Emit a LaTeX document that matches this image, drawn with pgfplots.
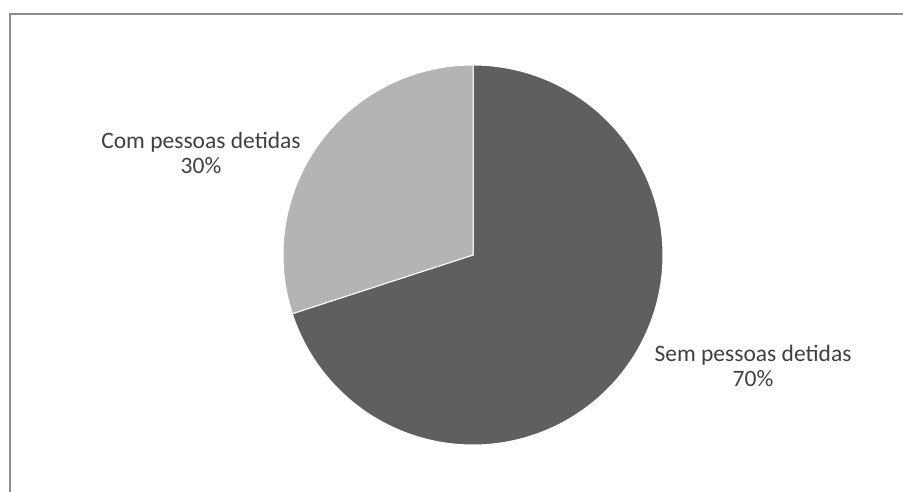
\documentclass[border=0pt]{standalone}
\usepackage{pgfplots}
\usepackage{pgfplotstable}
\pgfplotsset{compat=1.18}
\usepackage{fontspec}
\setmainfont{Carlito}
\definecolor{darkslice}{HTML}{5F5F5F}
\definecolor{lightslice}{HTML}{B4B4B4}
\definecolor{labeltext}{HTML}{404040}
\definecolor{framegray}{HTML}{8C8C8C}
\pgfplotstableread{
label share
Sem 70
Com 30
}\piedata
\pgfplotstablegetelem{0}{share}\of\piedata \let\shareA\pgfplotsretval
\pgfplotstablegetelem{1}{share}\of\piedata \let\shareB\pgfplotsretval
\pgfmathsetmacro{\angA}{90-3.6*\shareA}
\pgfmathsetmacro{\angB}{\angA-3.6*\shareB}
\begin{document}
\begin{tikzpicture}[x=1bp,y=1bp]
\begin{axis}[
  name=ax,
  scale only axis, width=903bp, height=492bp,
  xmin=0, xmax=903, ymin=0, ymax=492, y dir=reverse,
  hide axis, clip=false,
]
\addplot[draw=framegray, line width=2bp] coordinates {(9.5,492) (9.5,14) (903,14)};
\addplot[fill=darkslice, draw=white, line width=1bp, domain=90:\angA, samples=240]
  ({473+190*cos(x)}, {255-190*sin(x)}) -- (axis cs:473,255) -- cycle;
\addplot[fill=lightslice, draw=white, line width=1bp, domain=\angA:\angB, samples=120]
  ({473+190*cos(x)}, {255-190*sin(x)}) -- (axis cs:473,255) -- cycle;
\node[align=center, text=labeltext, font=\fontsize{23.5bp}{25.5bp}\selectfont, anchor=center]
  at (axis cs:201,153) {Com pessoas detidas\\30\%};
\node[align=center, text=labeltext, font=\fontsize{23.5bp}{25.5bp}\selectfont, anchor=center]
  at (axis cs:753,366) {Sem pessoas detidas\\70\%};
\end{axis}
\pgfresetboundingbox
\useasboundingbox (ax.south west) rectangle (ax.north east);
\end{tikzpicture}
\end{document}
